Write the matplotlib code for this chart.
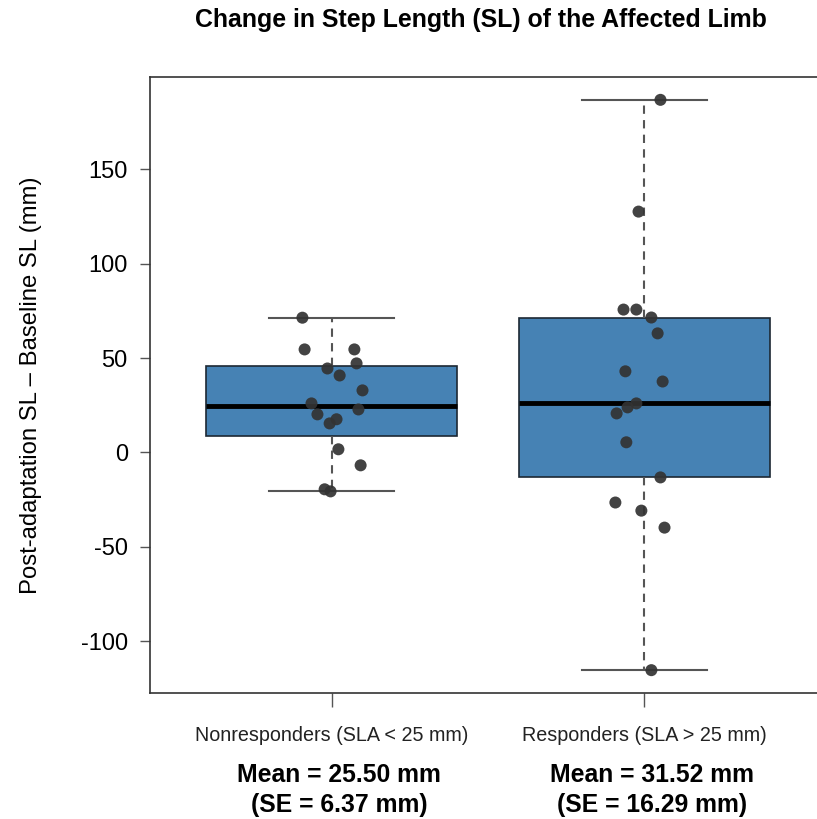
import matplotlib
matplotlib.use('Agg')
import matplotlib.pyplot as plt
import numpy as np

plt.rcParams['font.family'] = ['Liberation Sans', 'DejaVu Sans']

groups = ['Nonresponders (SLA < 25 mm)', 'Responders (SLA > 25 mm)']
summary = ['Mean = 25.50 mm\n(SE = 6.37 mm)', 'Mean = 31.52 mm\n(SE = 16.29 mm)']

nonresp = [71.4, 54.6, 54.6, 47.2, 44.5, 40.8, 32.9, 26.0, 22.8, 20.2,
           17.6, 15.4, 1.7, -6.8, -19.5, -20.6]
nonresp_jit = [-0.093, -0.086, 0.073, 0.080, -0.013, 0.026, 0.099, -0.064,
               0.086, -0.045, 0.016, -0.006, 0.022, 0.093, -0.022, -0.003]

resp = [186.8, 127.6, 75.7, 75.7, 71.5, 63.1, 43.0, 37.6, 26.0, 23.9,
        20.7, 5.4, -13.2, -26.5, -30.8, -39.8, -115.3]
resp_jit = [0.051, -0.019, -0.067, -0.026, 0.022, 0.042, -0.061, 0.058,
            -0.026, -0.054, -0.089, -0.058, 0.051, -0.093, -0.010, 0.064, 0.022]

data = [nonresp, resp]
jitter = [nonresp_jit, resp_jit]


def tukey_stats(v):
    # R-style boxplot: hinges (fivenum) and 1.5*IQR whiskers
    s = np.sort(np.asarray(v))
    n = len(s)
    half = (n + 1) // 2
    q1 = np.median(s[:half])
    q3 = np.median(s[n - half:])
    iqr = q3 - q1
    lo = s[s >= q1 - 1.5 * iqr].min()
    hi = s[s <= q3 + 1.5 * iqr].max()
    fl = s[(s < lo) | (s > hi)]
    return dict(med=np.median(s), q1=q1, q3=q3, whislo=lo, whishi=hi, fliers=fl)


fig = plt.figure(figsize=(8.17, 8.19), dpi=100)
ax = fig.add_axes([150 / 817, 1 - 693 / 819, 676 / 817, 616 / 819])

pos = [1, 2]
ax.bxp([tukey_stats(d) for d in data], positions=pos, widths=0.8,
       patch_artist=True, showfliers=False,
       boxprops=dict(facecolor='#4682B4', edgecolor='#1c2833', linewidth=1.2),
       medianprops=dict(color='black', linewidth=3.5),
       whiskerprops=dict(color='#555555', linewidth=1.5, linestyle=(0, (4, 3))),
       capprops=dict(color='#555555', linewidth=1.5),
       capwidths=0.4)

for p, d, j in zip(pos, data, jitter):
    ax.scatter(p + np.array(j), d, s=75, color='#333333', alpha=0.92,
               edgecolors='none', zorder=5)

ax.set_xlim(0.42, 2.58)
ax.set_ylim(-127.4, 198.9)
ax.set_yticks([-100, -50, 0, 50, 100, 150])
ax.set_yticklabels(['-100', '-50', '0', '50', '100', '150'])
ax.set_xticks(pos)
ax.set_xticklabels(groups, fontsize=14.2, color='#222222')
ax.tick_params(axis='y', labelsize=17, length=7, width=1, color='#555555', pad=9)
ax.tick_params(axis='x', length=10, width=1, color='#555555', pad=14)
for sp in ax.spines.values():
    sp.set_color('#333333')
    sp.set_linewidth(1.2)

ax.set_ylabel('Post-adaptation SL \u2013 Baseline SL (mm)', fontsize=17.2, labelpad=28)

for p, t in zip(pos, summary):
    ax.text(p + 0.025, -0.113, t, transform=ax.get_xaxis_transform(),
            ha='center', va='top', fontsize=17.8, fontweight='bold',
            linespacing=1.35)

fig.text(481 / 817, 1 - 20 / 819, 'Change in Step Length (SL) of the Affected Limb',
         ha='center', va='center', fontsize=17.9, fontweight='bold')

fig.savefig('out.png', dpi=100)
